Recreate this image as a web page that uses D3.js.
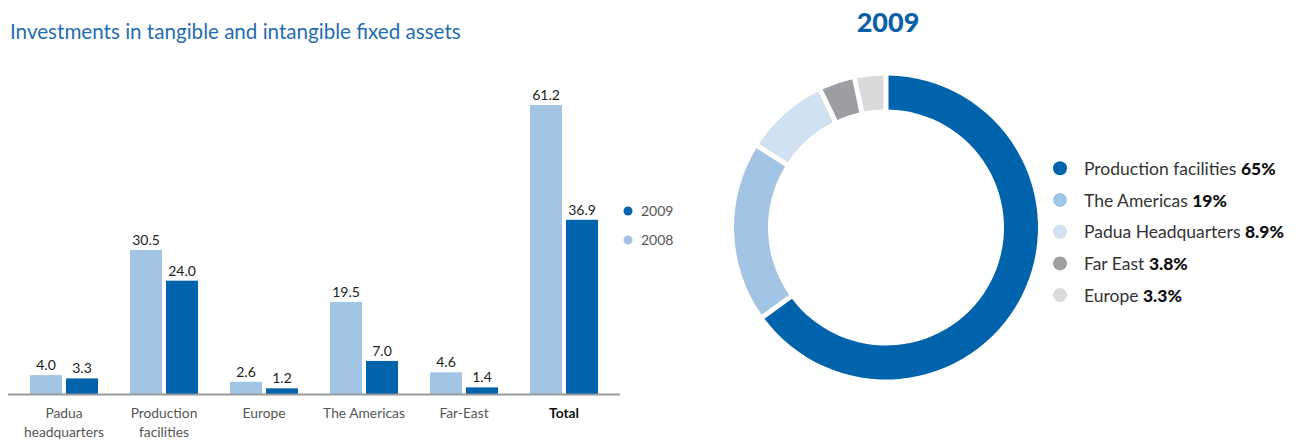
<!DOCTYPE html>
<html>
<head>
<meta charset="utf-8">
<script src="https://cdn.jsdelivr.net/npm/d3@7"></script>
<style>
  html, body { margin: 0; padding: 0; background: #fff; }
  svg { display: block; font-family: Lato, "Open Sans", sans-serif; }
</style>
</head>
<body>
<svg id="chart" width="1312" height="441"></svg>
<script>
// ---- Data ----
const categories = ["Padua\nheadquarters", "Production\nfacilities", "Europe", "The Americas", "Far-East", "Total"];
const values2008 = [4.0, 30.5, 2.6, 19.5, 4.6, 61.2];
const values2009 = [3.3, 24.0, 1.2, 7.0, 1.4, 36.9];
const seriesNames = ["2008", "2009"];
const legendOrder = ["2009", "2008"];

const donutLabels = ["Production facilities", "The Americas", "Padua Headquarters", "Far East", "Europe"];
const donutValues = [65, 19, 8.9, 3.8, 3.3];
const donutValueLabels = ["65%", "19%", "8.9%", "3.8%", "3.3%"];

const titleText = "Investments in tangible and intangible fixed assets";
const donutTitle = "2009";

// ---- Styles ----
const C2008 = "#a3c5e5";
const C2009 = "#0063ab";
const donutColors = ["#0063ab", "#a3c5e5", "#d0e1f2", "#9c9ea1", "#d9dadc"];
const seriesColor = { "2008": C2008, "2009": C2009 };

const svg = d3.select("#chart");

// Title
svg.append("text")
  .attr("x", 10).attr("y", 39)
  .attr("fill", "#1f6db4")
  .attr("font-size", 20.6)
  .text(titleText);

// ---- Bar chart ----
const baseline = 394;
const x = d3.scaleBand().domain(categories).range([14, 614]).padding(0);
const xInner = d3.scaleBand().domain(seriesNames).range([0, 68]).paddingInner(4 / 36).paddingOuter(0);
const y = d3.scaleLinear().domain([0, 61.2]).range([baseline, 105]);
const fmt = d3.format(".1f");

const rows = categories.map((c, i) => ({ cat: c, vals: [{ s: "2008", v: values2008[i] }, { s: "2009", v: values2009[i] }] }));

const groups = svg.append("g").selectAll("g").data(rows).join("g")
  .attr("transform", d => `translate(${x(d.cat) + x.bandwidth() / 2 - 34},0)`);

groups.selectAll("rect").data(d => d.vals).join("rect")
  .attr("x", d => xInner(d.s))
  .attr("width", xInner.bandwidth())
  .attr("y", d => y(d.v))
  .attr("height", d => baseline - y(d.v))
  .attr("fill", d => seriesColor[d.s]);

groups.selectAll("text.val").data(d => d.vals).join("text")
  .attr("class", "val")
  .attr("x", d => xInner(d.s) + xInner.bandwidth() / 2)
  .attr("y", d => y(d.v) - 5)
  .attr("text-anchor", "middle")
  .attr("font-size", 14)
  .attr("fill", "#222")
  .text(d => fmt(d.v));

// axis line
svg.append("line")
  .attr("x1", 8).attr("x2", 620)
  .attr("y1", baseline + 0.5).attr("y2", baseline + 0.5)
  .attr("stroke", "#9a9a9a").attr("stroke-width", 2);

// category labels via axis
const xAxis = d3.axisBottom(x).tickSize(0).tickPadding(0);
const axisG = svg.append("g").attr("transform", `translate(0,${baseline})`).call(xAxis);
axisG.select(".domain").remove();
axisG.selectAll(".tick text").each(function(d) {
  const t = d3.select(this);
  t.text(null).attr("y", 0).attr("dy", null)
    .attr("font-family", "Lato, 'Open Sans', sans-serif")
    .attr("font-size", 13.8)
    .attr("fill", d === "Total" ? "#111" : "#555")
    .attr("font-weight", d === "Total" ? "bold" : "normal");
  d.split("\n").forEach((line, i) => {
    t.append("tspan").attr("x", 0).attr("y", 24 + i * 19).text(line);
  });
});

// bar legend
const leg = svg.append("g").selectAll("g").data(legendOrder).join("g")
  .attr("transform", (d, i) => `translate(628,${211 + i * 29})`);
leg.append("circle").attr("r", 4.5).attr("fill", d => seriesColor[d]);
leg.append("text").attr("x", 13).attr("y", 5).attr("font-size", 14).attr("fill", "#555").text(d => d);

// ---- Donut ----
const cx = 886, cy = 227.5, R = 152, r = 118;
svg.append("text")
  .attr("x", cx + 2).attr("y", 32)
  .attr("text-anchor", "middle")
  .attr("font-size", 27).attr("font-weight", 900)
  .attr("fill", "#0a5fa8")
  .text(donutTitle);

const pie = d3.pie().sort(null).value(d => d)(donutValues);
const arc = d3.arc().innerRadius(r).outerRadius(R).padAngle(5 / R).padRadius(R);
svg.append("g").attr("transform", `translate(${cx},${cy})`)
  .selectAll("path").data(pie).join("path")
  .attr("d", arc)
  .attr("fill", (d, i) => donutColors[i]);

const dl = svg.append("g").selectAll("g").data(donutLabels).join("g")
  .attr("transform", (d, i) => `translate(1060,${168.3 + i * 31.7})`);
dl.append("circle").attr("r", 7).attr("fill", (d, i) => donutColors[i]);
const dt = dl.append("text").attr("x", 24).attr("y", 6.5).attr("font-size", 17.5).attr("fill", "#333");
dt.append("tspan").text(d => d + " ");
dt.append("tspan").attr("font-weight", 900).attr("fill", "#111").text((d, i) => donutValueLabels[i]);
</script>
</body>
</html>
